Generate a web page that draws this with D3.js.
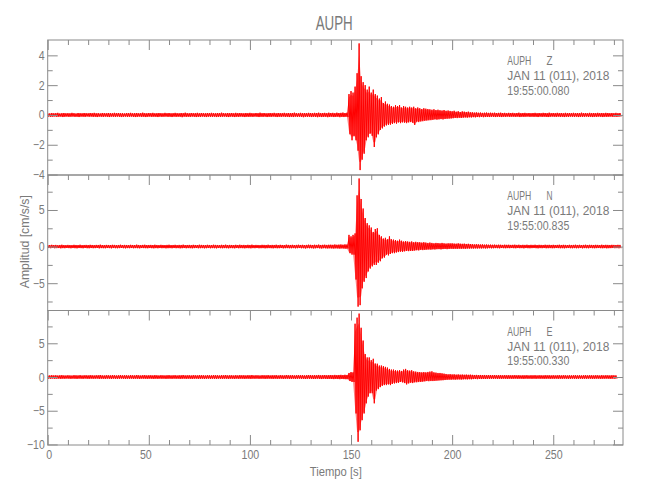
<!DOCTYPE html>
<html><head><meta charset="utf-8">
<script src="https://cdn.jsdelivr.net/npm/d3@7"></script>
<style>
html,body{margin:0;padding:0;background:#fff;}
text{font-family:"Liberation Sans Narrow","Arial Narrow","Liberation Sans",sans-serif;fill:#7a7a7a;}
</style></head>
<body><svg id="chart" width="650" height="500"></svg>
<script>
// ---- data: per-second positive peak (hi) and negative peak (lo), t = 0,1,2,... s
const zHigh = [
.12,.10,.13,.11,.12,.14,.10,.12,.13,.11, .12,.11,.14,.12,.10,.13,.12,.11,.13,.12,
.11,.13,.12,.14,.11,.12,.10,.13,.12,.11, .13,.12,.11,.14,.12,.13,.11,.12,.10,.13,
.12,.14,.11,.12,.13,.11,.12,.15,.12,.11, .13,.12,.14,.11,.12,.13,.12,.11,.14,.12,
.13,.11,.12,.14,.12,.11,.13,.12,.15,.12, .11,.13,.12,.12,.14,.11,.13,.12,.11,.13,
.12,.14,.12,.11,.13,.12,.15,.12,.11,.13, .12,.13,.11,.14,.12,.13,.12,.11,.13,.12,
.14,.12,.11,.13,.12,.15,.12,.13,.11,.12, .13,.12,.14,.11,.13,.12,.12,.14,.11,.13,
.12,.13,.15,.12,.11,.14,.12,.13,.12,.14, .13,.12,.14,.13,.15,.12,.13,.14,.12,.15,
.13,.14,.12,.15,.13,.14,.16,.13,.15,1.4, 1.6,1.5,1.9,2.8,4.8,2.6,2.2,2.0,1.7,1.9,
1.5,1.7,1.4,1.3,1.1,1.2,0.8,0.9,0.75,0.7, .6,.55,.65,.6,.66,.5,.6,.55,.5,.55,
.5,.55,.45,.5,.45,.4,.45,.42,.4,.38, .35,.38,.33,.35,.32,.3,.33,.28,.3,.27,
.25,.28,.22,.25,.2,.24,.22,.2,.22,.18, .18,.16,.17,.15,.16,.14,.15,.16,.14,.15,
.14,.15,.13,.14,.15,.13,.14,.12,.14,.13, .14,.12,.13,.15,.12,.13,.14,.12,.13,.12,
.13,.14,.12,.13,.12,.14,.13,.12,.15,.12, .13,.12,.14,.12,.13,.11,.14,.12,.13,.12,
.14,.12,.13,.12,.15,.12,.13,.11,.14,.12, .13,.12,.14,.12,.13,.12,.14,.13,.12,.13,
.12,.14,.12,.13];
const zLow = [
-.11,-.13,-.12,-.10,-.13,-.12,-.11,-.14,-.12,-.11, -.13,-.12,-.11,-.13,-.12,-.14,-.11,-.12,-.13,-.10,
-.12,-.11,-.13,-.12,-.14,-.11,-.12,-.13,-.11,-.12, -.14,-.11,-.12,-.13,-.11,-.12,-.14,-.12,-.11,-.13,
-.12,-.11,-.13,-.14,-.12,-.11,-.13,-.12,-.14,-.12, -.11,-.13,-.12,-.12,-.14,-.11,-.13,-.12,-.11,-.13,
-.12,-.14,-.11,-.13,-.12,-.12,-.15,-.11,-.13,-.12, -.13,-.11,-.12,-.14,-.12,-.13,-.11,-.12,-.14,-.11,
-.12,-.13,-.11,-.14,-.12,-.13,-.12,-.11,-.13,-.14, -.11,-.12,-.14,-.12,-.13,-.11,-.12,-.14,-.12,-.13,
-.12,-.13,-.11,-.12,-.14,-.12,-.13,-.11,-.14,-.12, -.13,-.11,-.12,-.14,-.12,-.13,-.11,-.13,-.12,-.14,
-.12,-.14,-.11,-.13,-.12,-.13,-.15,-.12,-.13,-.12, -.14,-.12,-.13,-.15,-.12,-.14,-.13,-.12,-.15,-.13,
-.12,-.14,-.13,-.12,-.15,-.13,-.14,-.12,-.14,-1.3, -1.7,-1.4,-1.7,-2.4,-3.7,-3.0,-2.6,-1.7,-1.5,-1.25,
-1.4,-2.15,-1.5,-1.3,-1.0,-0.9,-0.78,-0.7,-0.67,-0.65, -.6,-.55,-.58,-.5,-.55,-.5,-.52,-.55,-.5,-.48,
-.52,-.67,-.45,-.48,-.44,-.42,-.4,-.38,-.36,-.35, -.33,-.3,-.32,-.3,-.28,-.3,-.27,-.26,-.25,-.24,
-.22,-.2,-.21,-.19,-.2,-.18,-.17,-.18,-.16,-.17, -.15,-.16,-.14,-.15,-.13,-.15,-.14,-.13,-.14,-.12,
-.13,-.14,-.12,-.13,-.14,-.12,-.13,-.11,-.13,-.12, -.12,-.13,-.11,-.14,-.12,-.13,-.12,-.11,-.13,-.12,
-.13,-.12,-.14,-.11,-.13,-.12,-.13,-.14,-.12,-.11, -.12,-.13,-.11,-.13,-.12,-.14,-.12,-.13,-.11,-.12,
-.13,-.11,-.14,-.12,-.13,-.12,-.11,-.13,-.12,-.14, -.12,-.13,-.11,-.12,-.14,-.12,-.13,-.12,-.11,-.13,
-.12,-.13,-.11,-.12];
const nHigh = [
.22,.2,.24,.21,.23,.19,.22,.25,.21,.2, .23,.21,.2,.24,.22,.21,.25,.2,.22,.23,
.21,.24,.22,.2,.23,.22,.26,.21,.2,.23, .22,.21,.24,.23,.2,.22,.25,.21,.23,.22,
.2,.24,.22,.21,.26,.22,.2,.23,.25,.21, .22,.23,.21,.25,.22,.2,.24,.22,.21,.23,
.25,.21,.22,.24,.2,.23,.22,.26,.21,.22, .23,.2,.24,.22,.21,.25,.23,.22,.2,.24,
.22,.21,.25,.23,.22,.2,.24,.22,.26,.21, .23,.22,.2,.24,.21,.25,.22,.23,.21,.24,
.22,.26,.21,.23,.22,.2,.24,.23,.22,.25, .21,.23,.22,.25,.2,.24,.22,.21,.26,.23,
.22,.24,.21,.23,.25,.22,.24,.21,.23,.26, .24,.22,.25,.23,.27,.22,.24,.26,.23,.25,
.26,.24,.28,.25,.27,.29,.26,.3,.28,1.6, 1.4,1.6,1.8,7.0,9.3,6.5,5.2,3.9,3.2,2.9,
2.6,2.0,2.4,2.5,1.6,1.4,1.1,1.2,1.0,1.4, 1.0,.95,.9,.8,.95,.8,.7,.75,.7,.65,
.7,.6,.65,.6,.6,.55,.6,.55,.5,.55, .5,.45,.5,.48,.45,.5,.45,.42,.45,.44,
.45,.42,.4,.44,.4,.38,.4,.36,.38,.35, .33,.3,.32,.3,.28,.3,.27,.28,.26,.27,
.25,.27,.24,.26,.25,.23,.26,.24,.25,.23, .24,.26,.23,.25,.22,.24,.23,.25,.22,.24,
.23,.25,.22,.24,.23,.22,.25,.23,.24,.22, .24,.22,.23,.25,.22,.24,.23,.21,.24,.22,
.23,.25,.22,.24,.21,.23,.25,.22,.24,.23, .22,.24,.23,.21,.25,.22,.24,.23,.22,.24,
.23,.22,.24,.23];
const nLow = [
-.2,-.22,-.19,-.23,-.21,-.2,-.24,-.21,-.22,-.19, -.21,-.23,-.2,-.22,-.24,-.2,-.21,-.23,-.19,-.22,
-.23,-.2,-.22,-.21,-.19,-.24,-.21,-.22,-.23,-.2, -.21,-.24,-.2,-.22,-.23,-.21,-.19,-.22,-.24,-.21,
-.22,-.2,-.23,-.21,-.22,-.24,-.2,-.21,-.22,-.23, -.2,-.22,-.24,-.21,-.23,-.2,-.22,-.21,-.24,-.22,
-.21,-.23,-.2,-.22,-.21,-.24,-.22,-.2,-.23,-.21, -.22,-.24,-.21,-.2,-.23,-.22,-.21,-.24,-.22,-.2,
-.23,-.21,-.22,-.24,-.2,-.22,-.23,-.21,-.22,-.24, -.21,-.22,-.24,-.2,-.23,-.21,-.22,-.24,-.21,-.22,
-.24,-.21,-.22,-.2,-.23,-.22,-.21,-.24,-.22,-.21, -.22,-.24,-.21,-.23,-.22,-.2,-.24,-.22,-.21,-.23,
-.23,-.21,-.24,-.22,-.2,-.23,-.22,-.25,-.21,-.23, -.22,-.25,-.23,-.21,-.24,-.26,-.22,-.24,-.25,-.23,
-.25,-.27,-.24,-.26,-.28,-.25,-.27,-.29,-.26,-.9, -1.1,-1.1,-4.5,-8.2,-8.0,-5.7,-4.8,-4.3,-3.4,-3.0,
-2.7,-2.5,-2.5,-2.2,-2.0,-1.6,-1.5,-1.1,-1.2,-1.0, -.9,-.9,-.8,-.75,-.7,-.72,-.65,-.6,-.62,-.6,
-.6,-.55,-.5,-.52,-.45,-.48,-.45,-.42,-.4,-.42, -.38,-.4,-.36,-.35,-.38,-.34,-.32,-.35,-.32,-.3,
-.32,-.3,-.31,-.29,-.3,-.28,-.3,-.27,-.28,-.26, -.27,-.25,-.26,-.24,-.25,-.23,-.25,-.24,-.22,-.24,
-.23,-.21,-.22,-.24,-.2,-.22,-.23,-.21,-.22,-.2, -.22,-.23,-.2,-.22,-.21,-.24,-.2,-.22,-.23,-.21,
-.2,-.22,-.24,-.21,-.22,-.2,-.23,-.22,-.21,-.23, -.22,-.2,-.21,-.23,-.22,-.24,-.21,-.2,-.22,-.23,
-.21,-.23,-.22,-.2,-.24,-.21,-.22,-.23,-.2,-.22, -.23,-.21,-.2,-.22,-.23,-.21,-.24,-.22,-.21,-.2,
-.22,-.21,-.23,-.22];
const eHigh = [
.25,.23,.27,.24,.26,.22,.25,.28,.24,.23, .26,.24,.22,.27,.25,.24,.28,.23,.25,.26,
.24,.27,.25,.23,.26,.25,.29,.24,.23,.26, .25,.24,.27,.26,.23,.25,.28,.24,.26,.25,
.23,.27,.25,.24,.29,.25,.23,.26,.28,.24, .25,.26,.24,.28,.25,.23,.27,.25,.24,.26,
.28,.24,.25,.27,.23,.26,.25,.29,.24,.25, .26,.23,.27,.25,.24,.28,.26,.25,.23,.27,
.25,.24,.28,.26,.25,.23,.27,.25,.29,.24, .26,.25,.23,.27,.24,.28,.25,.26,.24,.27,
.25,.29,.24,.26,.25,.23,.27,.26,.25,.28, .24,.26,.25,.28,.23,.27,.25,.24,.29,.26,
.25,.27,.24,.26,.28,.25,.27,.24,.26,.29, .27,.25,.28,.26,.3,.25,.27,.29,.26,.28,
.29,.27,.31,.28,.3,.32,.29,.33,.3,.6, .74,.7,7.9,8.8,9.4,7.3,5.4,3.4,2.9,2.9,
2.5,2.7,2.0,1.97,1.7,1.7,1.6,1.5,1.4,1.2, 1.1,1.1,1.0,.95,1.0,.9,1.1,1.2,1.0,.95,
1.0,.85,.8,.75,.74,.7,.74,.7,.75,.8, .84,.7,.65,.6,.6,.55,.5,.45,.4,.42,
.38,.4,.36,.38,.35,.37,.34,.36,.33,.35, .32,.3,.31,.29,.3,.28,.3,.27,.29,.28,
.27,.29,.26,.28,.27,.25,.28,.26,.27,.25, .26,.28,.25,.27,.24,.26,.25,.27,.24,.26,
.25,.27,.24,.26,.25,.24,.27,.25,.26,.24, .26,.24,.25,.27,.24,.26,.25,.23,.26,.24,
.25,.27,.24,.26,.23,.25,.27,.24,.26,.25, .24,.26,.25,.23,.27,.24,.26,.25,.24,.26,
.25,.24];
const eLow = [
-.24,-.26,-.23,-.27,-.25,-.24,-.28,-.25,-.26,-.23, -.25,-.27,-.24,-.26,-.28,-.24,-.25,-.27,-.23,-.26,
-.27,-.24,-.26,-.25,-.23,-.28,-.25,-.26,-.27,-.24, -.25,-.28,-.24,-.26,-.27,-.25,-.23,-.26,-.28,-.25,
-.26,-.24,-.27,-.25,-.26,-.28,-.24,-.25,-.26,-.27, -.24,-.26,-.28,-.25,-.27,-.24,-.26,-.25,-.28,-.26,
-.25,-.27,-.24,-.26,-.25,-.28,-.26,-.24,-.27,-.25, -.26,-.28,-.25,-.24,-.27,-.26,-.25,-.28,-.26,-.24,
-.27,-.25,-.26,-.28,-.24,-.26,-.27,-.25,-.26,-.28, -.25,-.26,-.28,-.24,-.27,-.25,-.26,-.28,-.25,-.26,
-.28,-.25,-.26,-.24,-.27,-.26,-.25,-.28,-.26,-.25, -.26,-.28,-.25,-.27,-.26,-.24,-.28,-.26,-.25,-.27,
-.27,-.25,-.28,-.26,-.24,-.27,-.26,-.29,-.25,-.27, -.26,-.29,-.27,-.25,-.28,-.3,-.26,-.28,-.29,-.27,
-.29,-.31,-.28,-.3,-.32,-.29,-.31,-.33,-.3,-.6, -.74,-.74,-5.4,-9.6,-7.9,-6.4,-5.4,-3.9,-2.9,-2.4,
-2.4,-3.9,-2.0,-1.8,-1.5,-1.3,-1.2,-1.2,-1.1,-1.2, -1.0,-.95,-.9,-.85,-.74,-.8,-.9,-1.1,-.95,-.85,
-.9,-.8,-.78,-.75,-.74,-.7,-.65,-.6,-.62,-.6, -.6,-.58,-.55,-.52,-.5,-.48,-.45,-.42,-.4,-.41,
-.38,-.4,-.37,-.36,-.38,-.35,-.34,-.36,-.33,-.34, -.31,-.3,-.32,-.29,-.3,-.28,-.29,-.27,-.28,-.26,
-.27,-.25,-.28,-.26,-.27,-.25,-.26,-.28,-.25,-.27, -.26,-.24,-.27,-.25,-.26,-.28,-.24,-.26,-.25,-.27,
-.25,-.27,-.24,-.26,-.25,-.27,-.26,-.24,-.27,-.25, -.26,-.24,-.27,-.25,-.26,-.24,-.25,-.27,-.26,-.24,
-.25,-.27,-.26,-.24,-.27,-.25,-.26,-.24,-.25,-.27, -.26,-.24,-.25,-.27,-.26,-.25,-.24,-.26,-.27,-.25,
-.26,-.25];

const components = ["Z", "N", "E"];
const startTimes = ["19:55:00.080", "19:55:00.835", "19:55:00.330"];
const stationName = "AUPH";
const dateLabel = "JAN 11 (011), 2018";
const zTicks = [-4, -2, 0, 2, 4], zMinor = [-3, -1, 1, 3];
const nTicks = [-5, 0, 5], nMinor = [-7.5, -2.5, 2.5, 7.5];
const eTicks = [-10, -5, 0, 5], eMinor = [-7.5, -2.5, 2.5, 7.5];
const xTicks = [0, 50, 100, 150, 200, 250];
const xMinor = d3.range(10, 290, 10).filter(v => v % 50 !== 0);
const xTitle = "Tiempo [s]";
const yTitle = "Amplitud [cm/s/s]";

// ---- layout
const svg = d3.select("#chart");
const L = 47.7, R = 623;
const x = d3.scaleLinear().domain([0, 284.5]).range([L, R]);
const axisCol = "#8a8a8a", textCol = "#7a7a7a";

const panels = [
  {hi: zHigh, lo: zLow, top: 40, bottom: 175, dom: [-4.03, 5.03], ticks: zTicks, minor: zMinor},
  {hi: nHigh, lo: nLow, top: 175, bottom: 310.5, dom: [-8.73, 9.78], ticks: nTicks, minor: nMinor},
  {hi: eHigh, lo: eLow, top: 310.5, bottom: 445, dom: [-10.08, 9.86], ticks: eTicks, minor: eMinor}
];

svg.append("defs").selectAll("clipPath").data(panels).join("clipPath")
  .attr("id", (d, i) => "clip" + i)
  .append("rect").attr("x", L).attr("y", d => d.top).attr("width", R - L).attr("height", d => d.bottom - d.top);

const fmt = d => d3.format("")(d);
const labW = s => s.length * 5.9;

panels.forEach((p, i) => {
  const y = d3.scaleLinear().domain(p.dom).range([p.bottom, p.top]);
  const g = svg.append("g");

  // envelope band + trace alternating positive and negative peaks
  const env = p.hi.map((v, k) => ({t: k, hi: v, lo: Math.min(p.lo[k], k > 0 ? p.lo[k - 1] : p.lo[k])}));
  g.append("path").datum(env)
    .attr("clip-path", `url(#clip${i})`)
    .attr("fill", "#ff0000").attr("fill-opacity", 0.5).attr("stroke", "none")
    .attr("d", d3.area().x(d => x(d.t)).y0(d => y(d.lo * 0.85)).y1(d => y(d.hi * 0.85)));
  const pts = [];
  p.hi.forEach((v, k) => { pts.push([k, v]); pts.push([k + 0.5, p.lo[k]]); });
  g.append("path").datum(pts)
    .attr("clip-path", `url(#clip${i})`)
    .attr("fill", "none").attr("stroke", "#ff0000").attr("stroke-width", 1)
    .attr("d", d3.line().x(d => x(d[0])).y(d => y(d[1])));

  // left axis (ticks inside)
  const la = g.append("g").attr("transform", `translate(${L},0)`)
    .call(d3.axisLeft(y).tickValues(p.ticks).tickSize(-10).tickPadding(3).tickFormat(fmt));
  la.select(".domain").remove();
  la.selectAll("line").attr("stroke", axisCol);
  la.selectAll("text").attr("fill", textCol).style("font-size", "12.5px")
    .attr("textLength", function () { return labW(this.textContent); })
    .attr("lengthAdjust", "spacingAndGlyphs");
  const lm = g.append("g").attr("transform", `translate(${L},0)`)
    .call(d3.axisLeft(y).tickValues(p.minor).tickSize(-5).tickFormat(""));
  lm.select(".domain").remove();
  lm.selectAll("line").attr("stroke", axisCol);

  // right axis (ticks inside)
  const ra = g.append("g").attr("transform", `translate(${R},0)`)
    .call(d3.axisRight(y).tickValues(p.ticks).tickSize(-10).tickFormat(""));
  ra.select(".domain").remove();
  ra.selectAll("line").attr("stroke", axisCol);
  const rm = g.append("g").attr("transform", `translate(${R},0)`)
    .call(d3.axisRight(y).tickValues(p.minor).tickSize(-5).tickFormat(""));
  rm.select(".domain").remove();
  rm.selectAll("line").attr("stroke", axisCol);

  // top ticks (pointing down)
  const ta = g.append("g").attr("transform", `translate(0,${p.top})`)
    .call(d3.axisTop(x).tickValues(xTicks).tickSize(-10).tickFormat(""));
  ta.select(".domain").remove();
  ta.selectAll("line").attr("stroke", axisCol);
  const tm = g.append("g").attr("transform", `translate(0,${p.top})`)
    .call(d3.axisTop(x).tickValues(xMinor).tickSize(-5).tickFormat(""));
  tm.select(".domain").remove();
  tm.selectAll("line").attr("stroke", axisCol);

  // frame
  g.append("rect").attr("x", L).attr("y", p.top).attr("width", R - L).attr("height", p.bottom - p.top)
    .attr("fill", "none").attr("stroke", axisCol).attr("stroke-width", 1);

  // annotation
  const ax = 507.3, ay = p.top + 25;
  g.append("text").attr("x", ax).attr("y", ay).text(stationName)
    .attr("textLength", 24).attr("lengthAdjust", "spacingAndGlyphs").style("font-size", "12.5px");
  g.append("text").attr("x", 546.5).attr("y", ay).text(components[i])
    .attr("textLength", 6).attr("lengthAdjust", "spacingAndGlyphs").style("font-size", "12.5px");
  g.append("text").attr("x", ax).attr("y", ay + 15).text(dateLabel)
    .attr("textLength", 102).attr("lengthAdjust", "spacingAndGlyphs").style("font-size", "12.5px");
  g.append("text").attr("x", ax).attr("y", ay + 29.5).text(startTimes[i])
    .attr("textLength", 62).attr("lengthAdjust", "spacingAndGlyphs").style("font-size", "12.5px");
});

// bottom x axis (ticks inside) with labels
const bottom = 445;
const ba = svg.append("g").attr("transform", `translate(0,${bottom})`)
  .call(d3.axisBottom(x).tickValues(xTicks).tickSize(-10).tickPadding(5).tickFormat(fmt));
ba.select(".domain").remove();
ba.selectAll("line").attr("stroke", axisCol);
ba.selectAll("text").attr("fill", textCol).style("font-size", "12.5px")
  .attr("textLength", function () { return labW(this.textContent); })
  .attr("lengthAdjust", "spacingAndGlyphs")
  .attr("dx", d => d === 0 ? 1 : d === 50 ? -3.5 : 0);
const bm = svg.append("g").attr("transform", `translate(0,${bottom})`)
  .call(d3.axisBottom(x).tickValues(xMinor).tickSize(-5).tickFormat(""));
bm.select(".domain").remove();
bm.selectAll("line").attr("stroke", axisCol);

// titles
svg.append("text").attr("x", 334.2).attr("y", 30).attr("text-anchor", "middle")
  .attr("textLength", 37).attr("lengthAdjust", "spacingAndGlyphs")
  .style("font-size", "20px").text(stationName);
svg.append("text").attr("x", 335.8).attr("y", 476).attr("text-anchor", "middle")
  .attr("textLength", 52).attr("lengthAdjust", "spacingAndGlyphs")
  .style("font-size", "13px").text(xTitle);
svg.append("text").attr("transform", "translate(28.5,241.7) rotate(-90)").attr("text-anchor", "middle")
  .attr("textLength", 93).attr("lengthAdjust", "spacingAndGlyphs")
  .style("font-size", "13.5px").text(yTitle);
</script>
</body></html>
